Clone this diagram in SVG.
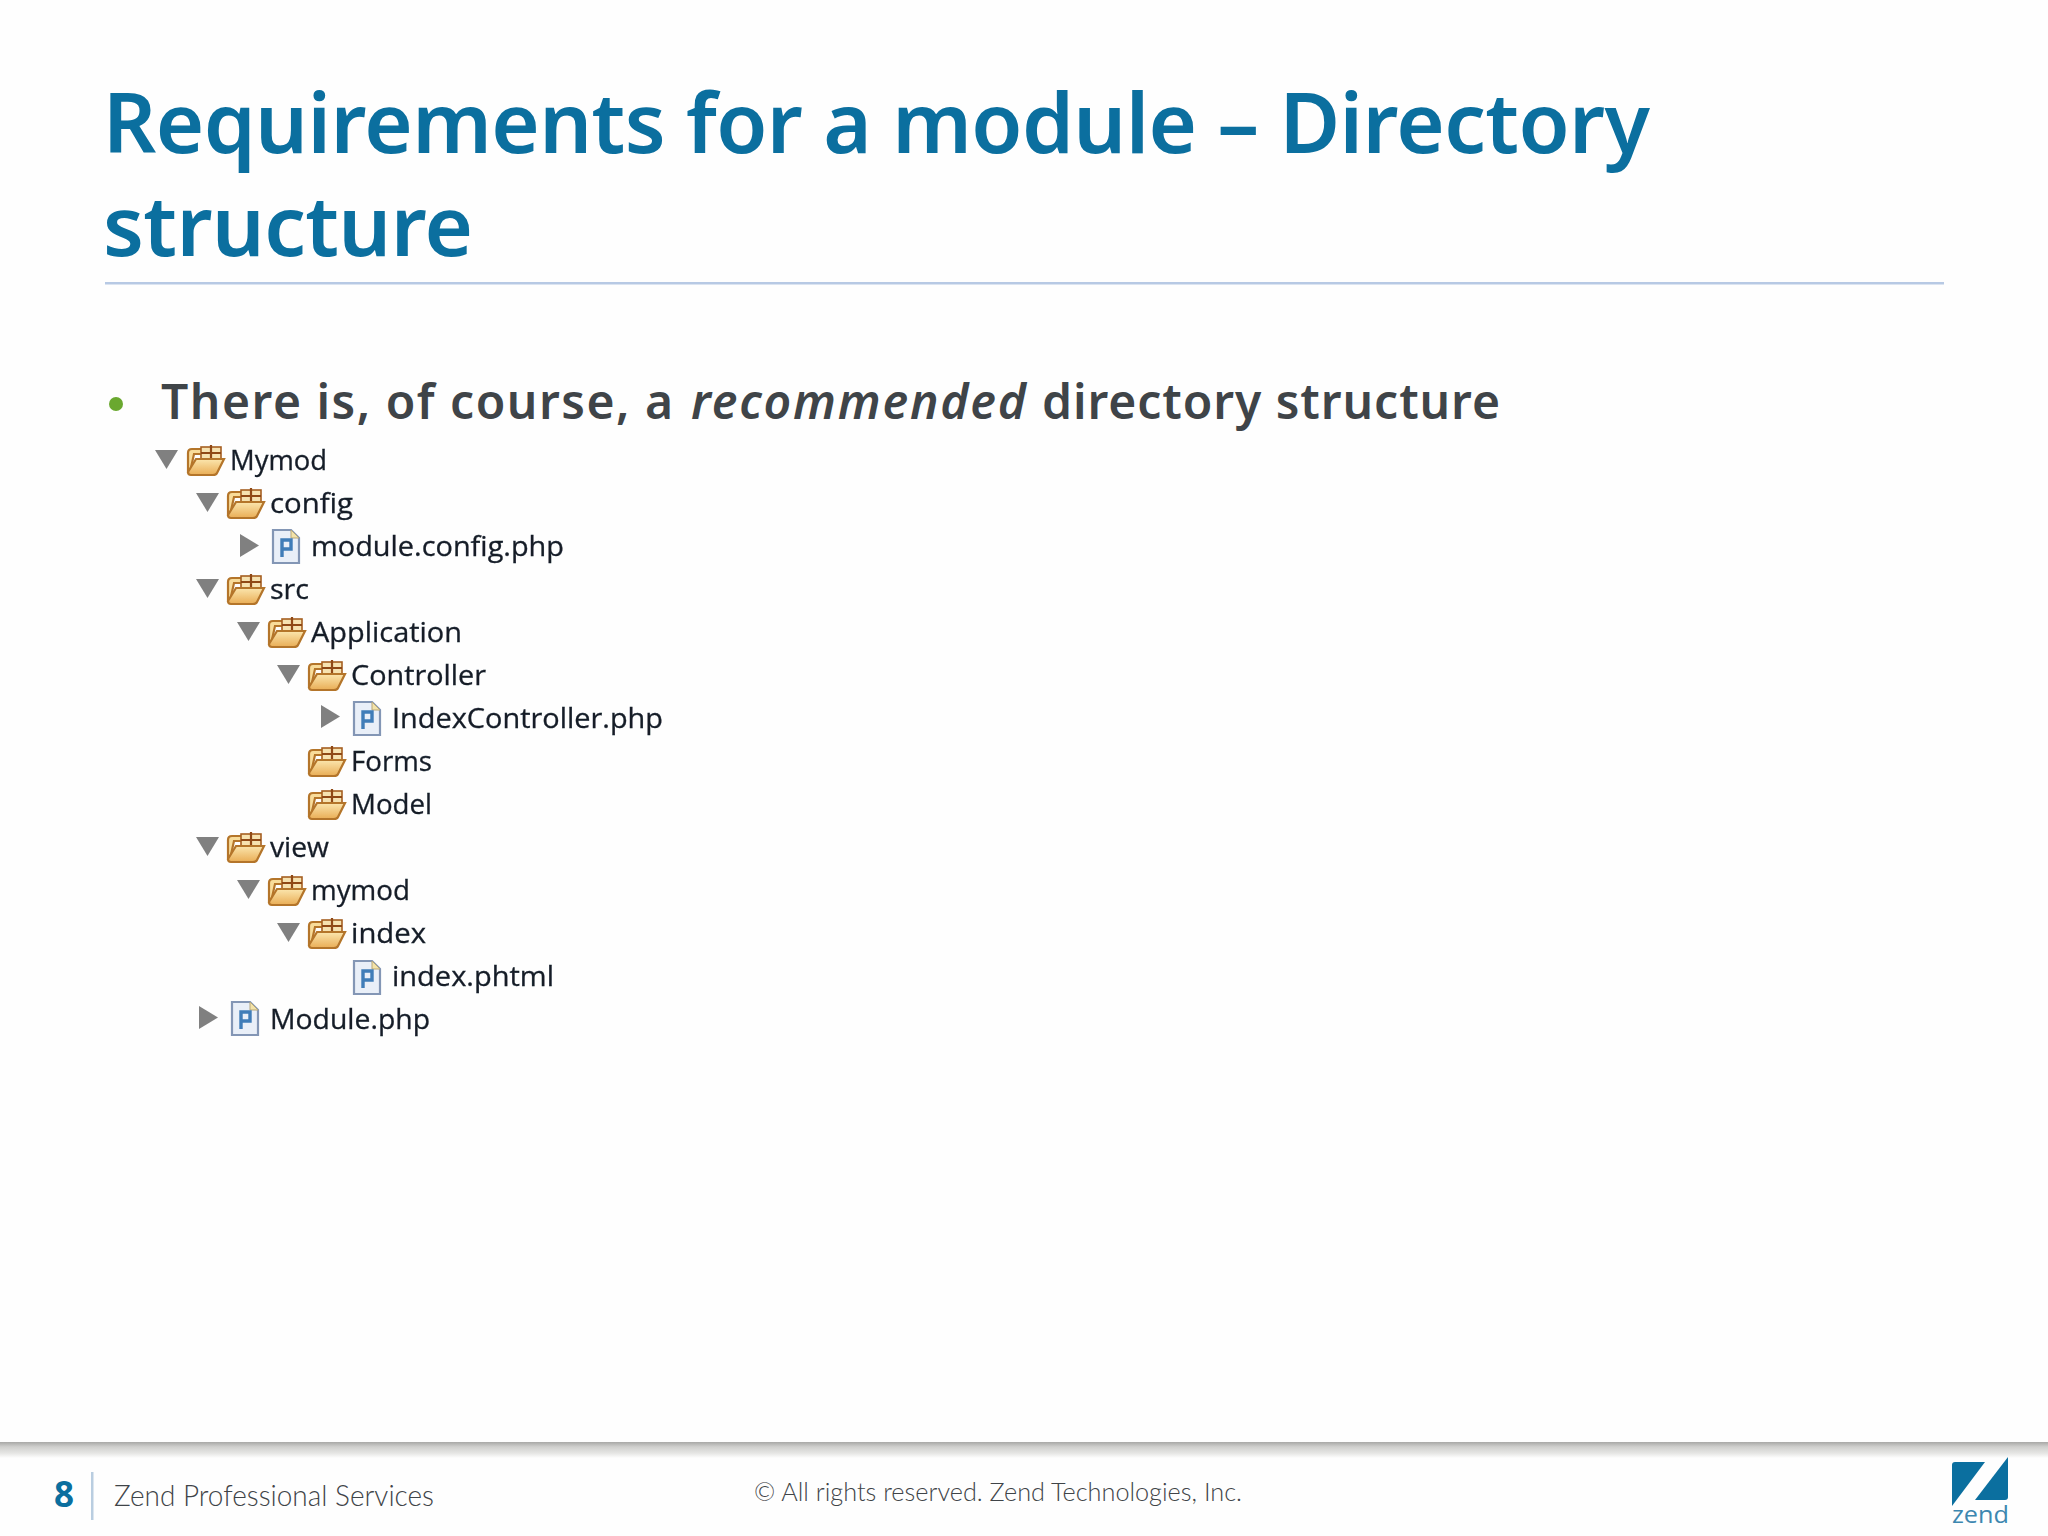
<svg xmlns="http://www.w3.org/2000/svg" width="2048" height="1536" viewBox="0 0 2048 1536">
<style>
.t{font-family:"Noto Sans","DejaVu Sans",sans-serif;font-weight:600;font-size:83px;fill:#0b6f9f}
.b{font-family:"Noto Sans","DejaVu Sans",sans-serif;font-weight:600;font-size:48px;fill:#3f4448}
.r{font-family:"Open Sans","DejaVu Sans",sans-serif;font-size:28px;fill:#141c28;stroke:#141c28;stroke-width:0.3}
.f{font-family:"Lato","Open Sans",sans-serif;font-weight:300;fill:#3f4448}
</style>
<defs>
<linearGradient id="shadow" x1="0" y1="0" x2="0" y2="1"><stop offset="0" stop-color="#a8a8a6"/><stop offset="0.3" stop-color="#cfcfcd"/><stop offset="0.7" stop-color="#e6e6e4"/><stop offset="1" stop-color="#fefefe"/></linearGradient>
<linearGradient id="fo" x1="0" y1="0" x2="0" y2="1"><stop offset="0" stop-color="#fbe6ae"/><stop offset="1" stop-color="#e9ad55"/></linearGradient>
<filter id="soft" x="-5%" y="-5%" width="110%" height="110%"><feGaussianBlur stdDeviation="0.6"/></filter>
<polygon id="down" points="0,0 23,0 11.5,19" fill="#808080"/>
<polygon id="right" points="0,0 19,11.5 0,23" fill="#808080"/>
<g id="folder">
<path d="M2,27 V8 Q2,4 6,4 H20 V9 H8 L4,27 Z" fill="#f8dc9a" stroke="#b4752a" stroke-width="2.2"/>
<rect x="15" y="2" width="20" height="13" fill="#f6e2b0" stroke="#a55f20" stroke-width="1.6"/>
<path d="M25,0 V15 M15,8 H35" fill="none" stroke="#8f4a18" stroke-width="2.2"/>
<path d="M2,27 L10,14 H38 L31,28 Q30,30 27,30 H5 Q2,30 2,27 Z" fill="url(#fo)" stroke="#b4752a" stroke-width="2.2"/>
</g>
<g id="file">
<path d="M1,1 H19 L27,9 V34 H1 Z" fill="#e9eff8" stroke="#8396b5" stroke-width="2.2"/>
<path d="M19,1 V9 H27 Z" fill="#f4e3a8" stroke="#b7a77a" stroke-width="1"/>
<path d="M10,28 V11 H19 V20 H10" fill="none" stroke="#3f7db8" stroke-width="3.4"/>
</g>
</defs>
<rect width="2048" height="1536" fill="#fefefe"/>
<g id="title">
<text class="t" x="103" y="153" textLength="1547" lengthAdjust="spacing">Requirements for a module – Directory</text>
<text class="t" x="103" y="256" textLength="370" lengthAdjust="spacing">structure</text>
<rect x="105" y="282" width="1839" height="2.5" fill="#b7c9e4"/>
</g>
<g id="bullet">
<circle cx="116" cy="404" r="7" fill="#6aa82f"/>
<text class="b" y="419"><tspan x="161" textLength="512" lengthAdjust="spacing">There is, of course, a</tspan><tspan x="691" font-style="italic" textLength="335" lengthAdjust="spacing">recommended</tspan><tspan x="1042" textLength="458" lengthAdjust="spacing">directory structure</tspan></text>
</g>
<g id="tree" filter="url(#soft)">
<g id="row-mymod"><use href="#down" x="155" y="450"/><use href="#folder" x="186" y="445"/><text class="r" x="230" y="470" textLength="97" lengthAdjust="spacingAndGlyphs">Mymod</text></g>
<g id="row-config"><use href="#down" x="196" y="493"/><use href="#folder" x="226" y="488"/><text class="r" x="270" y="513" textLength="83" lengthAdjust="spacingAndGlyphs">config</text></g>
<g id="row-module-config"><use href="#right" x="240" y="534"/><use href="#file" x="272" y="529"/><text class="r" x="311" y="556" textLength="253" lengthAdjust="spacingAndGlyphs">module.config.php</text></g>
<g id="row-src"><use href="#down" x="196" y="579"/><use href="#folder" x="226" y="574"/><text class="r" x="270" y="599" textLength="39" lengthAdjust="spacingAndGlyphs">src</text></g>
<g id="row-application"><use href="#down" x="237" y="622"/><use href="#folder" x="267" y="617"/><text class="r" x="311" y="642" textLength="151" lengthAdjust="spacingAndGlyphs">Application</text></g>
<g id="row-controller"><use href="#down" x="277" y="665"/><use href="#folder" x="307" y="660"/><text class="r" x="351" y="685" textLength="135" lengthAdjust="spacingAndGlyphs">Controller</text></g>
<g id="row-indexcontroller"><use href="#right" x="321" y="705"/><use href="#file" x="353" y="701"/><text class="r" x="392" y="728" textLength="271" lengthAdjust="spacingAndGlyphs">IndexController.php</text></g>
<g id="row-forms"><use href="#folder" x="307" y="746"/><text class="r" x="351" y="771" textLength="81" lengthAdjust="spacingAndGlyphs">Forms</text></g>
<g id="row-model"><use href="#folder" x="307" y="789"/><text class="r" x="351" y="814" textLength="81" lengthAdjust="spacingAndGlyphs">Model</text></g>
<g id="row-view"><use href="#down" x="196" y="837"/><use href="#folder" x="226" y="832"/><text class="r" x="270" y="857" textLength="59" lengthAdjust="spacingAndGlyphs">view</text></g>
<g id="row-mymod-2"><use href="#down" x="237" y="880"/><use href="#folder" x="267" y="875"/><text class="r" x="311" y="900" textLength="99" lengthAdjust="spacingAndGlyphs">mymod</text></g>
<g id="row-index"><use href="#down" x="277" y="923"/><use href="#folder" x="307" y="918"/><text class="r" x="351" y="943" textLength="75" lengthAdjust="spacingAndGlyphs">index</text></g>
<g id="row-index-phtml"><use href="#file" x="353" y="960"/><text class="r" x="392" y="986" textLength="162" lengthAdjust="spacingAndGlyphs">index.phtml</text></g>
<g id="row-module-php"><use href="#right" x="199" y="1006"/><use href="#file" x="231" y="1001"/><text class="r" x="270" y="1029" textLength="160" lengthAdjust="spacingAndGlyphs">Module.php</text></g>
</g>
<g id="footer">
<rect x="0" y="1442" width="2048" height="16" fill="url(#shadow)"/>
<text x="54" y="1507" font-family="'Open Sans',sans-serif" font-weight="700" font-size="35" fill="#0b6f9f">8</text>
<rect x="91" y="1472" width="2.5" height="48" fill="#b9cde0"/>
<text class="f" x="114" y="1506" font-size="29" textLength="320" lengthAdjust="spacingAndGlyphs">Zend Professional Services</text>
<text class="f" x="754" y="1501" font-size="25" textLength="488" lengthAdjust="spacingAndGlyphs">© All rights reserved. Zend Technologies, Inc.</text>
</g>
<g id="logo">
<path d="M1955,1462 H1985 L1952,1506 V1465 Q1952,1462 1955,1462 Z" fill="#0b6f9f"/>
<path d="M2008,1457 V1497 Q2008,1500 2005,1500 H1975 Z" fill="#0b6f9f"/>
<text x="1952" y="1523" font-family="'Open Sans',sans-serif" font-size="24" fill="#3d87b0" textLength="57" lengthAdjust="spacingAndGlyphs">zend</text>
</g>
</svg>
